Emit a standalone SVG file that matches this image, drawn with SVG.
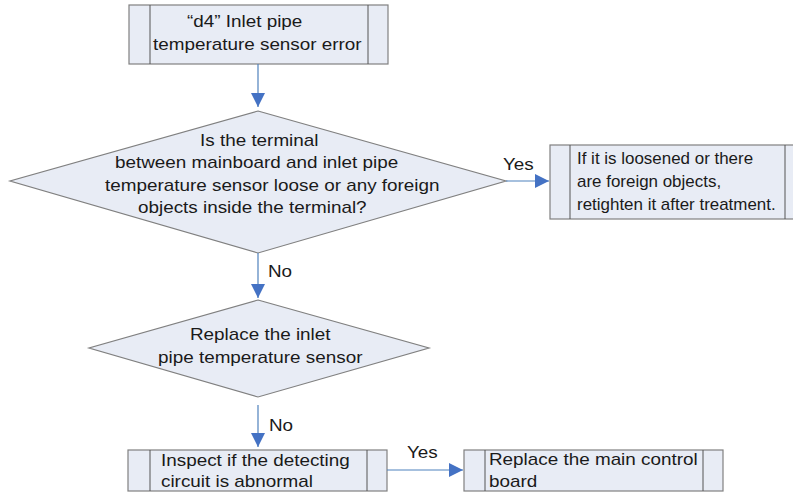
<svg xmlns="http://www.w3.org/2000/svg" width="793" height="493" viewBox="0 0 793 493">
<defs>
<marker id="arr" markerWidth="14" markerHeight="14" viewBox="0 0 14 14" refX="14" refY="7" orient="auto" markerUnits="userSpaceOnUse">
<path d="M0,0 L14,7 L0,14 Z" fill="#4472C4"/>
</marker>
</defs>
<style>
.box{fill:#E8ECF5;stroke:#808080;stroke-width:1.2}
.div{stroke:#555;stroke-width:1}
.t{font-family:"Liberation Sans",Arial,sans-serif;font-size:16px;fill:#1a1a1a}
.c{fill:none;stroke:#4F81BD;stroke-width:1.2}
</style>
<rect width="793" height="493" fill="#ffffff"/>
<g id="n1">
<rect class="box" x="129" y="5" width="259" height="59"/>
<line class="div" x1="150" y1="5" x2="150" y2="64"/>
<line class="div" x1="368" y1="5" x2="368" y2="64"/>
<text class="t" transform="translate(187 27) scale(1.18 1)">“d4” Inlet pipe</text>
<text class="t" transform="translate(153 50) scale(1.18 1)">temperature sensor error</text>
</g>
<g id="n2">
<polygon class="box" points="258,111 506,181 258,253 10,181"/>
<text class="t" transform="translate(200 145.5) scale(1.18 1)">Is the terminal</text>
<text class="t" transform="translate(115 168) scale(1.18 1)">between mainboard and inlet pipe</text>
<text class="t" transform="translate(105 190.5) scale(1.18 1)">temperature sensor loose or any foreign</text>
<text class="t" transform="translate(138 213) scale(1.18 1)">objects inside the terminal?</text>
</g>
<g id="n3">
<rect class="box" x="550" y="145" width="256" height="74"/>
<line class="div" x1="570" y1="145" x2="570" y2="219"/>
<line class="div" x1="785" y1="145" x2="785" y2="219"/>
<text class="t" transform="translate(577 164) scale(1.06 1)">If it is loosened or there</text>
<text class="t" transform="translate(577 187) scale(1.06 1)">are foreign objects,</text>
<text class="t" transform="translate(577 210) scale(1.06 1)">retighten it after treatment.</text>
</g>
<g id="n4">
<polygon class="box" points="258,300 429,348 258,397 89,348"/>
<text class="t" transform="translate(190 340) scale(1.18 1)">Replace the inlet</text>
<text class="t" transform="translate(158 363) scale(1.18 1)">pipe temperature sensor</text>
</g>
<g id="n5">
<rect class="box" x="128" y="450" width="259" height="41"/>
<line class="div" x1="150" y1="450" x2="150" y2="491"/>
<line class="div" x1="367" y1="450" x2="367" y2="491"/>
<text class="t" transform="translate(161 466) scale(1.18 1)">Inspect if the detecting</text>
<text class="t" transform="translate(161 487) scale(1.18 1)">circuit is abnormal</text>
</g>
<g id="n6">
<rect class="box" x="464" y="450" width="259" height="41"/>
<line class="div" x1="485" y1="450" x2="485" y2="491"/>
<line class="div" x1="703" y1="450" x2="703" y2="491"/>
<text class="t" transform="translate(489 465) scale(1.18 1)">Replace the main control</text>
<text class="t" transform="translate(489 487) scale(1.18 1)">board</text>
</g>
<g id="connectors">
<line class="c" x1="258" y1="64" x2="258" y2="107" marker-end="url(#arr)"/>
<line class="c" x1="506" y1="181" x2="549" y2="181" marker-end="url(#arr)"/>
<line class="c" x1="258" y1="253" x2="258" y2="298" marker-end="url(#arr)"/>
<line class="c" x1="258" y1="405" x2="258" y2="447" marker-end="url(#arr)"/>
<line class="c" x1="387" y1="470" x2="463" y2="470" marker-end="url(#arr)"/>
<text class="t" transform="translate(503 170) scale(1.18 1)">Yes</text>
<text class="t" transform="translate(268 277) scale(1.18 1)">No</text>
<text class="t" transform="translate(269 431) scale(1.18 1)">No</text>
<text class="t" transform="translate(407 458) scale(1.18 1)">Yes</text>
</g>
</svg>
